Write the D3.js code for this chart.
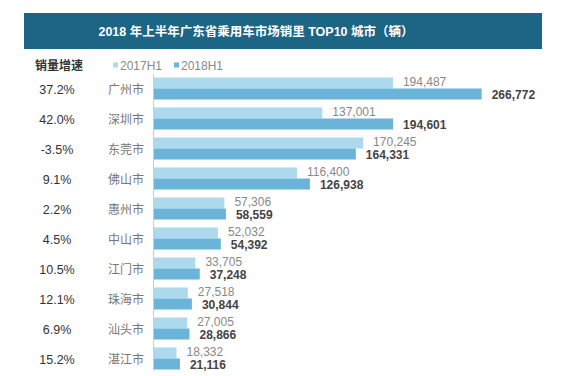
<!DOCTYPE html>
<html>
<head>
<meta charset="utf-8">
<script src="https://cdn.jsdelivr.net/npm/d3@7"></script>
<style>
  body { margin: 0; background: #fff; }
  svg { display: block; font-family: "Liberation Sans", Arial, "Noto Sans CJK SC", sans-serif; }
</style>
</head>
<body>
<svg id="chart" width="573" height="376"></svg>
<script>
// data
const cities = ['广州市', '深圳市', '东莞市', '佛山市', '惠州市', '中山市', '江门市', '珠海市', '汕头市', '湛江市'];
const growth = ['37.2%', '42.0%', '-3.5%', '9.1%', '2.2%', '4.5%', '10.5%', '12.1%', '6.9%', '15.2%'];
const sales2017 = [194487, 137001, 170245, 116400, 57306, 52032, 33705, 27518, 27005, 18332];
const sales2018 = [266772, 194601, 164331, 126938, 58559, 54392, 37248, 30844, 28866, 21116];
const seriesNames = ['2017H1', '2018H1'];

const title = '2018 年上半年广东省乘用车市场销里 TOP10 城市（辆）';
const colors = ['#acd9eb', '#6ab4da'];

const svg = d3.select('#chart');
const fmt = d3.format(',');

// title bar
svg.append('rect')
  .attr('x', 24).attr('y', 13)
  .attr('width', 518).attr('height', 36)
  .attr('fill', '#1d6585');
svg.append('text')
  .attr('x', 256).attr('y', 35.5)
  .attr('text-anchor', 'middle')
  .attr('fill', '#fff')
  .attr('font-weight', 'bold')
  .attr('font-size', 12.5)
  .text(title);

// scales
const x = d3.scaleLinear().domain([0, 300000]).range([154, 522.5]);
const y = d3.scaleBand().domain(cities).range([77.5, 369.5]).paddingInner(8 / 30).paddingOuter(0);
const sub = d3.scaleBand().domain(seriesNames).range([0, y.bandwidth()]);

// legend row
svg.append('text')
  .attr('x', 59).attr('y', 70)
  .attr('text-anchor', 'middle')
  .attr('font-size', 12).attr('font-weight', 'bold')
  .attr('fill', '#333')
  .text('销量增速');

const legend = svg.append('g').selectAll('g')
  .data(seriesNames).join('g')
  .attr('transform', (d, i) => `translate(${113 + i * 61},0)`);
legend.append('rect')
  .attr('x', 0).attr('y', 62.5).attr('width', 5).attr('height', 5)
  .attr('fill', (d, i) => colors[i]);
legend.append('text')
  .attr('x', 7).attr('y', 70)
  .attr('font-size', 12).attr('fill', '#888')
  .text(d => d);

// axis line
svg.append('line')
  .attr('x1', 153.5).attr('x2', 153.5)
  .attr('y1', 74).attr('y2', 371)
  .attr('stroke', '#ccc');

// row labels
const rows = svg.append('g').selectAll('g')
  .data(cities).join('g')
  .attr('transform', d => `translate(0,${y(d) + y.bandwidth() / 2 + 1})`);

rows.append('text')
  .attr('x', 57).attr('dy', '0.35em')
  .attr('text-anchor', 'middle')
  .attr('font-size', 12.5).attr('fill', '#333')
  .text((d, i) => growth[i]);

rows.append('text')
  .attr('x', 126).attr('dy', '0.35em')
  .attr('text-anchor', 'middle')
  .attr('font-size', 12).attr('fill', '#777')
  .text(d => d);

// bars and value labels
[sales2017, sales2018].forEach((vals, s) => {
  const g = svg.append('g');
  g.selectAll('rect')
    .data(vals).join('rect')
    .attr('x', x(0))
    .attr('y', (d, i) => y(cities[i]) + sub(seriesNames[s]))
    .attr('width', d => x(d) - x(0))
    .attr('height', sub.bandwidth())
    .attr('fill', colors[s]);
  g.selectAll('text')
    .data(vals).join('text')
    .attr('x', d => x(d) + 10)
    .attr('y', (d, i) => y(cities[i]) + sub(seriesNames[s]) + sub.bandwidth() / 2 + (s ? 1 : -1))
    .attr('dy', '0.35em')
    .attr('font-size', 12)
    .attr('font-weight', s ? 'bold' : 'normal')
    .attr('fill', s ? '#444' : '#888')
    .text(d => fmt(d));
});
</script>
</body>
</html>
